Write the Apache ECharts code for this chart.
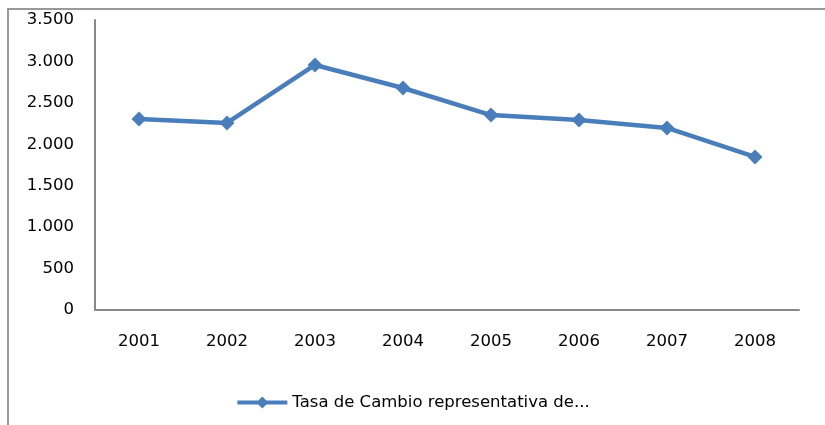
<!DOCTYPE html>
<html>
<head>
<meta charset="utf-8">
<script src="https://cdn.jsdelivr.net/npm/echarts@6/dist/echarts.min.js"></script>
<style>
  html, body { margin: 0; padding: 0; background: #fff; }
  #chart { width: 825px; height: 425px; }
</style>
</head>
<body>
<div id="chart"></div>
<script>
const years = ['2001', '2002', '2003', '2004', '2005', '2006', '2007', '2008']
const tasaCambio = [2305, 2257, 2957, 2679, 2353, 2293, 2197, 1847]
const seriesName = 'Tasa de Cambio representativa de...'

const chart = echarts.init(document.getElementById('chart'))

const fmt = v => String(v).replace(/\B(?=(\d{3})+(?!\d))/g, '.')

const option = {
  animation: false,
  textStyle: { fontFamily: 'DejaVu Sans' },
  grid: { left: 95, right: 26, top: 20, bottom: 115 },
  graphic: [
    {
      type: 'polyline',
      shape: { points: [[8, 425], [8, 9], [825, 9]] },
      style: { stroke: '#999', lineWidth: 2, fill: null }
    }
  ],
  legend: {
    bottom: 9,
    left: 'center',
    itemWidth: 50,
    itemHeight: 15,
    itemGap: 4,
    lineStyle: { width: 4 },
    textStyle: { fontSize: 16.5, color: '#000' },
    data: [seriesName]
  },
  xAxis: {
    type: 'category',
    data: years,
    boundaryGap: true,
    axisLine: { lineStyle: { color: '#888', width: 2 } },
    axisTick: { show: false },
    axisLabel: { color: '#000', fontSize: 16.5, margin: 23 }
  },
  yAxis: {
    type: 'value',
    min: 0,
    max: 3500,
    interval: 500,
    axisLine: { show: true, lineStyle: { color: '#888', width: 2 } },
    axisTick: { show: false },
    splitLine: { show: false },
    axisLabel: { color: '#000', fontSize: 16.5, margin: 21, formatter: fmt }
  },
  series: [
    {
      name: seriesName,
      type: 'line',
      data: tasaCambio,
      symbol: 'diamond',
      symbolSize: 15,
      lineStyle: { color: '#4A7EBB', width: 4.5 },
      itemStyle: { color: '#4A7EBB' }
    }
  ]
}

chart.setOption(option)
</script>
</body>
</html>
